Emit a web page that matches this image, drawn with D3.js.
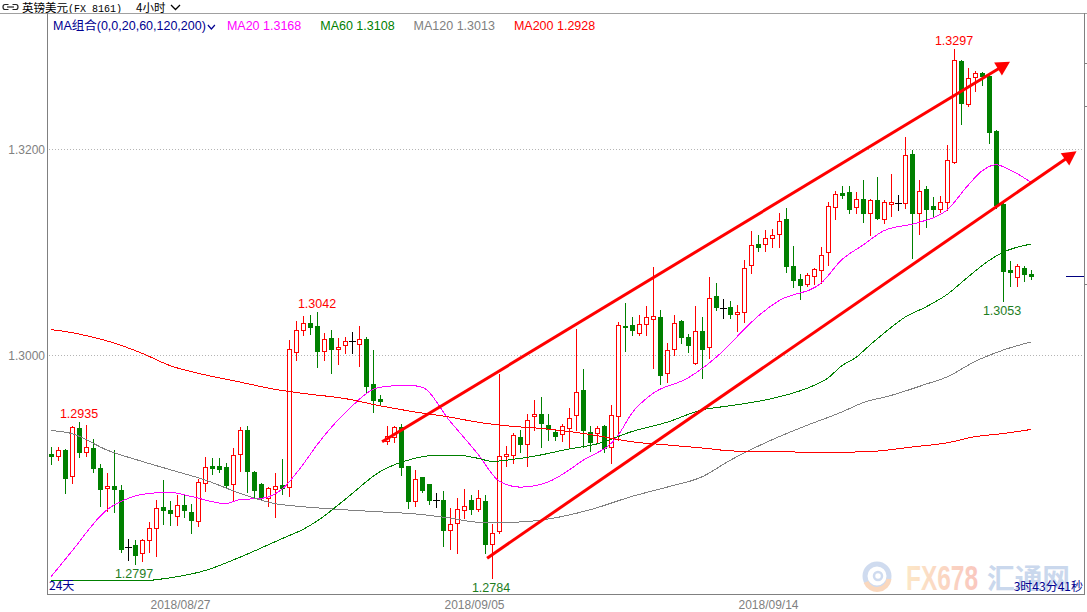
<!DOCTYPE html>
<html><head><meta charset="utf-8">
<script src="https://cdn.jsdelivr.net/npm/d3@7"></script>
<style>body{margin:0;background:#fff;overflow:hidden}svg{display:block}</style>
</head><body>
<svg id="c" width="1087" height="612"></svg>
<script>
// ---------- DATA ----------
const opens = [1.2904,1.2902,1.2908,1.2883,1.2929,1.2906,1.2910,1.2891,1.2871,1.2873,
1.2869,1.2814,1.2816,1.2808,1.2821,1.2832,1.2853,1.2850,1.2844,1.2855,
1.2848,1.2839,1.2876,1.2893,1.2893,1.2892,1.2875,1.2904,1.2927,1.2887,
1.2875,1.2861,1.2870,1.2874,1.2872,1.3003,1.3025,1.3031,1.3028,1.3004,
1.3017,1.3006,1.3010,1.3014,1.3011,1.3016,1.2972,1.2958,1.2917,1.2921,
1.2930,1.2893,1.2859,1.2882,1.2875,1.2860,1.2860,1.2830,1.2837,1.2850,
1.2860,1.2851,1.2859,1.2817,1.2829,1.2902,1.2903,1.2921,1.2914,1.2941,
1.2943,1.2932,1.2926,1.2924,1.2929,1.2942,1.2966,1.2926,1.2925,1.2931,
1.2911,1.2941,1.3028,1.3029,1.3022,1.3030,1.3035,1.3037,1.2983,1.3006,
1.3033,1.3018,1.2993,1.3024,1.3008,1.3058,1.3046,1.3047,1.3040,1.3042,
1.3088,1.3108,1.3108,1.3114,1.3118,1.3132,1.3087,1.3074,1.3069,1.3077,
1.3083,1.3100,1.3144,1.3158,1.3159,1.3144,1.3152,1.3138,1.3151,1.3132,
1.3147,1.3148,1.3148,1.3195,1.3138,1.3161,1.3145,1.3142,1.3149,1.3188,
1.3286,1.3244,1.3270,1.3274,1.3271,1.3218,1.3147,1.3083,1.3076,1.3085,
1.3079];
const highs = [1.2911,1.2911,1.2909,1.2931,1.2935,1.2932,1.2919,1.2894,1.2886,1.2908,
1.2874,1.2822,1.2821,1.2822,1.2838,1.2860,1.2879,1.2859,1.2864,1.2864,
1.2856,1.2880,1.2901,1.2900,1.2900,1.2895,1.2910,1.2930,1.2931,1.2888,
1.2876,1.2872,1.2886,1.2899,1.3015,1.3033,1.3038,1.3039,1.3042,1.3022,
1.3025,1.3017,1.3018,1.3023,1.3028,1.3018,1.3005,1.2961,1.2931,1.2931,
1.2933,1.2893,1.2889,1.2882,1.2875,1.2866,1.2868,1.2852,1.2861,1.2870,
1.2864,1.2869,1.2864,1.2836,1.2982,1.2912,1.2925,1.2927,1.2943,1.2957,
1.2960,1.2943,1.2927,1.2933,1.2949,1.3026,1.2987,1.2931,1.2931,1.2932,
1.2952,1.3032,1.3051,1.3037,1.3039,1.3048,1.3086,1.3044,1.3012,1.3039,
1.3034,1.3021,1.3048,1.3037,1.3076,1.3070,1.3055,1.3053,1.3049,1.3093,
1.3121,1.3117,1.3122,1.3123,1.3138,1.3143,1.3106,1.3079,1.3080,1.3085,
1.3105,1.3149,1.3160,1.3164,1.3164,1.3159,1.3170,1.3152,1.3173,1.3151,
1.3176,1.3156,1.3212,1.3199,1.3170,1.3164,1.3154,1.3155,1.3204,1.3297,
1.3287,1.3279,1.3276,1.3275,1.3274,1.3219,1.3148,1.3092,1.3089,1.3087,
1.3083];
const lows = [1.2894,1.2898,1.2866,1.2876,1.2901,1.2902,1.2887,1.2854,1.2849,1.2848,
1.2809,1.2801,1.2797,1.2800,1.2809,1.2805,1.2836,1.2835,1.2835,1.2843,
1.2827,1.2834,1.2868,1.2885,1.2887,1.2871,1.2859,1.2888,1.2867,1.2862,
1.2860,1.2854,1.2843,1.2865,1.2863,1.2995,1.3020,1.3021,1.2989,1.2995,
1.2983,1.2992,1.3002,1.3002,1.2990,1.2964,1.2945,1.2952,1.2914,1.2916,
1.2884,1.2852,1.2854,1.2867,1.2856,1.2853,1.2815,1.2812,1.2808,1.2842,
1.2846,1.2849,1.2808,1.2784,1.2827,1.2893,1.2895,1.2906,1.2893,1.2927,
1.2911,1.2918,1.2918,1.2917,1.2911,1.2927,1.2911,1.2907,1.2915,1.2906,
1.2895,1.2918,1.3004,1.3020,1.3020,1.3020,1.2988,1.2972,1.2974,1.3000,
1.3012,1.3003,1.2992,1.2978,1.2997,1.3044,1.3036,1.3036,1.3024,1.3032,
1.3080,1.3101,1.3101,1.3105,1.3105,1.3081,1.3066,1.3055,1.3067,1.3069,
1.3070,1.3088,1.3132,1.3153,1.3138,1.3138,1.3129,1.3117,1.3132,1.3128,
1.3135,1.3141,1.3143,1.3094,1.3118,1.3125,1.3134,1.3139,1.3141,1.3187,
1.3225,1.3242,1.3257,1.3262,1.3206,1.3143,1.3053,1.3067,1.3067,1.3072,
1.3074];
const closes = [1.2902,1.2908,1.2881,1.2930,1.2906,1.2911,1.2891,1.2870,1.2873,1.2870,
1.2812,1.2814,1.2806,1.2821,1.2832,1.2852,1.2850,1.2847,1.2855,1.2850,
1.2840,1.2877,1.2892,1.2891,1.2890,1.2874,1.2903,1.2927,1.2888,1.2869,
1.2862,1.2871,1.2873,1.2871,1.3006,1.3025,1.3031,1.3027,1.3004,1.3016,
1.3006,1.3008,1.3014,1.3014,1.3016,1.2970,1.2957,1.2956,1.2922,1.2930,
1.2892,1.2859,1.2880,1.2869,1.2860,1.2860,1.2830,1.2836,1.2851,1.2854,
1.2851,1.2861,1.2817,1.2827,1.2902,1.2904,1.2923,1.2914,1.2937,1.2943,
1.2934,1.2928,1.2922,1.2931,1.2939,1.2964,1.2927,1.2916,1.2929,1.2910,
1.2942,1.3029,1.3027,1.3025,1.3030,1.3037,1.3038,1.2981,1.3005,1.3031,
1.3018,1.3010,1.3024,1.3006,1.3056,1.3047,1.3046,1.3040,1.3042,1.3085,
1.3107,1.3105,1.3114,1.3117,1.3130,1.3087,1.3073,1.3068,1.3078,1.3084,
1.3097,1.3145,1.3157,1.3156,1.3142,1.3152,1.3138,1.3151,1.3133,1.3149,
1.3149,1.3148,1.3194,1.3138,1.3160,1.3142,1.3142,1.3149,1.3190,1.3287,
1.3245,1.3269,1.3274,1.3271,1.3217,1.3146,1.3082,1.3081,1.3087,1.3079,
1.3077];

// moving averages: [candle index, value]
const ma20 = [[0,1.2785],[3,1.2810],[8,1.2850],[11,1.2861],[13,1.2865],[17,1.2867],[20,1.2863],[25,1.2856],[27,1.2860],[30,1.2861],[33,1.2870],[36,1.2894],[38,1.2913],[42,1.2944],[47,1.2969],[51,1.2971],[53,1.2969],[57,1.2936],[61,1.2904],[64,1.2878],[67,1.2872],[71,1.2877],[76,1.2898],[81,1.2922],[83,1.2944],[86,1.2963],[91,1.2978],[96,1.3004],[99,1.3025],[101,1.3038],[104,1.3053],[110,1.3070],[113,1.3093],[116,1.3107],[119,1.3121],[124,1.3129],[128,1.3141],[131,1.3165],[133,1.3179],[135,1.3185],[137,1.3180],[140,1.3168]];
const ma60 = [[0,1.2781],[13,1.2781],[16,1.2783],[18,1.2785],[22,1.2791],[27,1.2804],[33,1.2822],[36,1.2831],[38,1.2839],[42,1.2860],[47,1.2887],[52,1.2900],[55,1.2903],[58,1.2903],[61,1.2900],[63,1.2897],[66,1.2899],[69,1.2902],[74,1.2909],[78,1.2914],[83,1.2926],[88,1.2935],[93,1.2947],[97,1.2951],[103,1.2958],[108,1.2968],[111,1.2978],[113,1.2990],[115,1.2998],[117,1.3010],[120,1.3027],[122,1.3037],[125,1.3047],[128,1.3059],[131,1.3076],[134,1.3092],[136,1.3100],[140,1.3108]];
const ma120 = [[0,1.2927],[3,1.2924],[8,1.2908],[13,1.2897],[17,1.2889],[22,1.2879],[27,1.2866],[32,1.2856],[36,1.2853],[42,1.2850],[47,1.2848],[52,1.2846],[57,1.2842],[61,1.2838],[66,1.2838],[70,1.2840],[77,1.2850],[83,1.2863],[88,1.2872],[93,1.2882],[97,1.2898],[103,1.2918],[108,1.2932],[113,1.2945],[116,1.2954],[120,1.2961],[125,1.2972],[128,1.2979],[132,1.2994],[136,1.3005],[140,1.3013]];
const ma200 = [[0,1.3025],[3,1.3022],[8,1.3014],[13,1.3002],[17,1.2990],[22,1.2981],[27,1.2974],[32,1.2967],[36,1.2963],[42,1.2958],[47,1.2951],[52,1.2945],[57,1.2940],[61,1.2935],[66,1.2931],[70,1.2929],[74,1.2926],[78,1.2922],[83,1.2916],[88,1.2913],[93,1.2910],[98,1.2907],[103,1.2907],[107,1.2906],[114,1.2906],[118,1.2907],[123,1.2911],[128,1.2915],[132,1.2921],[136,1.2924],[140,1.2928]];

// trend channel drawn on the chart: [candle index, price]
const upperTrend = [[47.3,1.2916],[137.0,1.3285]];
const lowerTrend = [[62.3,1.2803],[146.5,1.3198]];

const yTicks = [1.3200, 1.3000];
const dateIdx = [18, 60, 102];
const dateLabels = ["2018/08/27","2018/09/05","2018/09/14"];
const highMarks = [4, 38, 129];
const lowMarks = [12, 63, 136];
const rightTicks = [1.3284, 1.3242, 1.3069];

const maNames = ["MA20","MA60","MA120","MA200"];
const maColors = ["#FF00FF","#008000","#808080","#FF0000"];
const maSeries = [ma20, ma60, ma120, ma200];

// ---------- LAYOUT ----------
const L = 47, R = 1084, T = 13, B = 594;
const svg = d3.select("#c");
const x = d3.scaleLinear().domain([0, 140]).range([51, 1031]);
const y = d3.scaleLinear().domain([1.3000, 1.3200]).range([355.3, 149.3]);
const px = v => Math.round(x(v));
const py = v => Math.round(y(v));
const SANS = "'Liberation Sans','Noto Sans CJK SC',sans-serif";

svg.append("rect").attr("width",1087).attr("height",612).attr("fill","#fff");

// header
const icon = svg.append("g").attr("fill","none").attr("stroke","#222").attr("stroke-width",1.2);
icon.append("path").attr("d","M8.5,4.5 H5 Q3,4.5 3,7 Q3,9.5 5,9.5 H8.5");
icon.append("path").attr("d","M12.5,4.5 H16 Q18,4.5 18,7 Q18,9.5 16,9.5 H12.5");
icon.append("path").attr("d","M7,7 H14");
const title = svg.append("text").attr("x",22).attr("y",12).attr("fill","#000");
title.append("tspan").style("font","11.5px 'Noto Sans CJK SC'").text("英镑美元");
title.append("tspan").style("font","10px 'Liberation Mono'").text("(FX 8161)");
svg.append("text").attr("x",136).attr("y",12).style("font","11.5px 'Noto Sans CJK SC'").attr("fill","#000").text("4小时");
svg.append("path").attr("d","M171,5 L175.5,9.5 L180,5").attr("fill","none").attr("stroke","#000").attr("stroke-width",1.3);
svg.append("line").attr("x1",0).attr("x2",1087).attr("y1",T+0.5).attr("y2",T+0.5).attr("stroke","#a0a0a0");

// frame
svg.append("line").attr("x1",L+0.5).attr("x2",L+0.5).attr("y1",T).attr("y2",B+1).attr("stroke","#808080");
svg.append("line").attr("x1",R+0.5).attr("x2",R+0.5).attr("y1",T).attr("y2",B+1).attr("stroke","#808080");
svg.append("line").attr("x1",L).attr("x2",R+1).attr("y1",B+0.5).attr("y2",B+0.5).attr("stroke","#808080");

// y grid + labels
yTicks.forEach(t => {
  const yy = py(t) + 0.5;
  svg.append("line").attr("x1",L+2).attr("x2",R).attr("y1",yy).attr("y2",yy)
     .attr("stroke","#b4b4b4").attr("stroke-dasharray","1,2");
  svg.append("text").attr("x",45).attr("y",yy+4.5).attr("text-anchor","end")
     .style("font","12px "+SANS).attr("fill","#808080").text(t.toFixed(4));
});
rightTicks.forEach(t => {
  svg.append("line").attr("x1",R+1).attr("x2",R+4).attr("y1",py(t)+0.5).attr("y2",py(t)+0.5).attr("stroke","#808080");
});

// date labels
dateIdx.forEach((d,k) => {
  svg.append("text").attr("x",x(d+0.5)).attr("y",609).attr("text-anchor","middle")
     .style("font","12px "+SANS).attr("fill","#808080").text(dateLabels[k]);
});

// watermark logo
const logo = svg.append("g").attr("opacity",0.55);
logo.append("circle").attr("cx",877).attr("cy",576).attr("r",12).attr("fill","none").attr("stroke","#a9bfe3").attr("stroke-width",5);
logo.append("path").attr("d","M866,582 A12,12 0 0 0 889,579").attr("fill","none").attr("stroke","#f6b98a").attr("stroke-width",5);
logo.append("circle").attr("cx",878).attr("cy",576).attr("r",4).attr("fill","none").attr("stroke","#a9bfe3").attr("stroke-width",2.5);
const grad = svg.append("defs").append("linearGradient").attr("id","lg");
grad.append("stop").attr("offset","0").attr("stop-color","#fbd49a");
grad.append("stop").attr("offset","1").attr("stop-color","#f59a8a");
logo.append("text").attr("x",906).attr("y",590).attr("textLength",72).attr("lengthAdjust","spacingAndGlyphs")
   .style("font","bold 35px 'Liberation Sans'").attr("fill","url(#lg)").text("FX678");
logo.append("text").attr("x",987).attr("y",589).attr("textLength",83).attr("lengthAdjust","spacingAndGlyphs")
   .style("font","bold 28px 'Noto Sans CJK SC'").attr("fill","#9fb9e0").text("汇通网");

// plot clip
svg.append("clipPath").attr("id","pc").append("rect").attr("x",L+1).attr("y",T+1).attr("width",R-L-1).attr("height",B-T-1);
const plot = svg.append("g").attr("clip-path","url(#pc)");

// candles
const idx = d3.range(opens.length);
const cg = plot.append("g").attr("shape-rendering","crispEdges");
idx.forEach(i => {
  const o = opens[i], c = closes[i], h = highs[i], l = lows[i];
  const cx = px(i);
  const col = c > o ? "#FF0000" : (c < o ? "#008000" : "#000000");
  cg.append("line").attr("x1",cx+0.5).attr("x2",cx+0.5).attr("y1",py(h)).attr("y2",py(l)+1).attr("stroke",col);
  const top = py(Math.max(o,c)), bot = py(Math.min(o,c));
  if (c > o) {
    cg.append("rect").attr("x",cx-1.5).attr("y",top+0.5).attr("width",4).attr("height",Math.max(1,bot-top))
      .attr("fill","#fff").attr("stroke",col);
  } else if (c < o) {
    cg.append("rect").attr("x",cx-2).attr("y",top).attr("width",5).attr("height",Math.max(1,bot-top+1)).attr("fill",col);
  } else {
    cg.append("line").attr("x1",cx-3).attr("x2",cx+4).attr("y1",top+0.5).attr("y2",top+0.5).attr("stroke",col);
  }
});

// moving averages
const lineGen = d3.line().x(d => x(d[0])).y(d => y(d[1])).curve(d3.curveMonotoneX);
maSeries.forEach((s,k) => {
  plot.append("path").datum(s).attr("d",lineGen).attr("fill","none")
      .attr("stroke",maColors[k]).attr("stroke-width",1).attr("shape-rendering","crispEdges");
});

// trend channel with arrows
[upperTrend, lowerTrend].forEach(tr => {
  const x0 = x(tr[0][0]), y0 = y(tr[0][1]), x1 = x(tr[1][0]), y1 = y(tr[1][1]);
  const len = Math.hypot(x1-x0, y1-y0), ux = (x1-x0)/len, uy = (y1-y0)/len;
  const hl = 14, hw = 7.5;
  const bx = x1 - ux*hl, by = y1 - uy*hl;
  svg.append("line").attr("x1",x0).attr("y1",y0).attr("x2",bx+ux*2).attr("y2",by+uy*2)
     .attr("stroke","#FF0000").attr("stroke-width",3);
  svg.append("path").attr("d",`M${x1},${y1} L${bx - uy*hw},${by + ux*hw} L${bx + uy*hw},${by - ux*hw} Z`)
     .attr("fill","#FF0000");
});

// high / low marks
highMarks.forEach(i => {
  svg.append("text").attr("x",x(i)).attr("y",y(highs[i])-4).attr("text-anchor","middle")
     .style("font","12.5px "+SANS).attr("fill","#FF0000").text(highs[i].toFixed(4));
});
lowMarks.forEach(i => {
  svg.append("text").attr("x",x(i)-1).attr("y",y(lows[i])+14).attr("text-anchor","middle")
     .style("font","12.5px "+SANS).attr("fill","#1e7d1e").text(lows[i].toFixed(4));
});

// current price marker
const last = closes[closes.length-1];
svg.append("line").attr("x1",1066).attr("x2",R).attr("y1",py(last)+0.5).attr("y2",py(last)+0.5).attr("stroke","#000080");

// legend
const lg = svg.append("text").attr("x",53).attr("y",30).style("font","12.5px "+SANS).attr("fill","#000090")
   .text("MA组合(0,0,20,60,120,200)");
let lx = 53 + lg.node().getComputedTextLength() + 1;
svg.append("path").attr("d",`M${lx+1},25 L${lx+4.5},29 L${lx+8},25`).attr("fill","none").attr("stroke","#000090").attr("stroke-width",1.2);
lx += 20;
maSeries.forEach((s,k) => {
  const t = svg.append("text").attr("x",lx).attr("y",30).style("font","12.5px "+SANS).attr("fill",maColors[k])
     .text(maNames[k] + " " + s[s.length-1][1].toFixed(4));
  lx += t.node().getComputedTextLength() + 19;
});

// bottom texts
svg.append("text").attr("x",49).attr("y",590).style("font","12px 'Noto Sans CJK SC'").attr("fill","#000090").text("24天");
svg.append("text").attr("x",1083).attr("y",591).attr("text-anchor","end").style("font","12px 'Noto Sans CJK SC'")
   .attr("fill","#000090").text("3时43分41秒");
</script>
</body></html>
